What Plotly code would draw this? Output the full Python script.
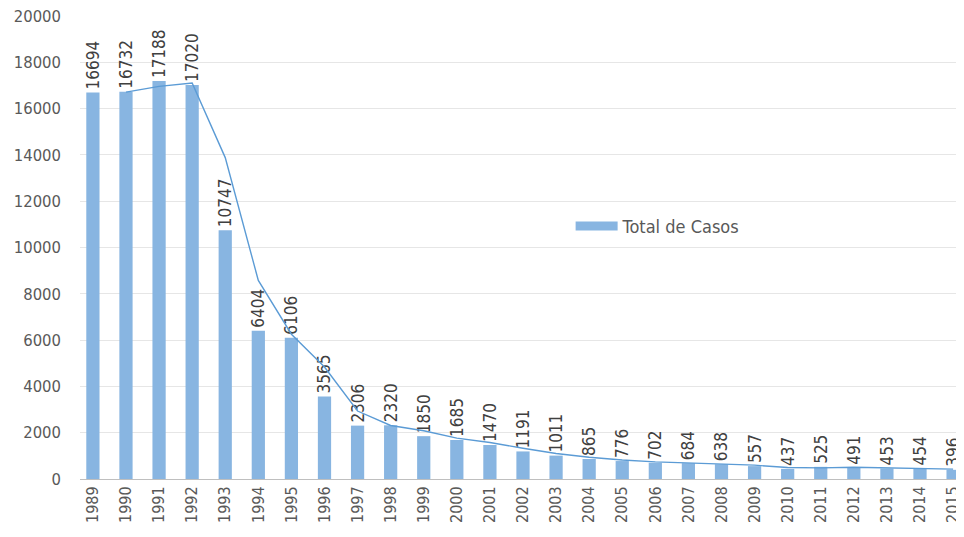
import plotly.graph_objects as go
import pandas as pd

years = [str(y) for y in range(1989, 2016)]
casos = [16694, 16732, 17188, 17020, 10747, 6404, 6106, 3565, 2306, 2320, 1850,
         1685, 1470, 1191, 1011, 865, 776, 702, 684, 638, 557, 437, 525, 491,
         453, 454, 396]
y_ticks = list(range(0, 20001, 2000))

# 2-period moving average trendline (as in the original spreadsheet chart)
media_movel = pd.Series(casos).rolling(2).mean().tolist()

font_fam = "DejaVu Sans Condensed, Liberation Sans Narrow, sans-serif"
grey = "#595959"
bar_color = "#88B5E1"

fig = go.Figure()
fig.add_trace(go.Bar(
    x=years, y=casos, name="Total de Casos", showlegend=False,
    marker=dict(color=bar_color, line=dict(width=0)),
    text=[str(v) for v in casos], textposition="outside", textangle=-90,
    textfont=dict(size=17, color="#404040", family=font_fam),
    cliponaxis=False,
))
fig.add_trace(go.Scatter(
    x=years, y=media_movel, mode="lines", showlegend=False,
    line=dict(color="#5B9BD5", width=1.4),
))
# legend entry for the bars (wide swatch as in the original)
fig.add_trace(go.Scatter(
    x=[years[0]], y=[None], mode="lines", name="Total de Casos",
    line=dict(color=bar_color, width=9), showlegend=True,
))

# the page body has an 8px margin, so the figure is offset by 8px
fig.update_layout(
    width=956, height=529,
    margin=dict(l=72, r=0, t=8, b=58),
    plot_bgcolor="white", paper_bgcolor="white",
    bargap=0.6,
    font=dict(family=font_fam, color=grey, size=16),
    showlegend=True,
    legend=dict(x=0.555, y=0.546, xanchor="left", yanchor="middle",
                itemwidth=42,
                bgcolor="rgba(0,0,0,0)", font=dict(size=18, color=grey)),
    uniformtext=dict(mode="show", minsize=17),
)
fig.update_xaxes(
    type="category", range=[-0.39, 26.33], tickangle=-90, automargin=False,
    ticklabeloverflow="allow",
    showline=True, linecolor="#BFBFBF", linewidth=1,
    tickfont=dict(size=16, color=grey), ticks="",
)
fig.update_yaxes(
    range=[0, 20000], tickvals=y_ticks, ticktext=[str(v) for v in y_ticks],
    automargin=False, ticklabelstandoff=18, ticklabeloverflow="allow",
    showgrid=True, gridcolor="#E6E6E6", gridwidth=1, zeroline=False,
    tickfont=dict(size=16.5, color=grey), ticks="", ticklen=0,
)
fig.write_html("out.html")
